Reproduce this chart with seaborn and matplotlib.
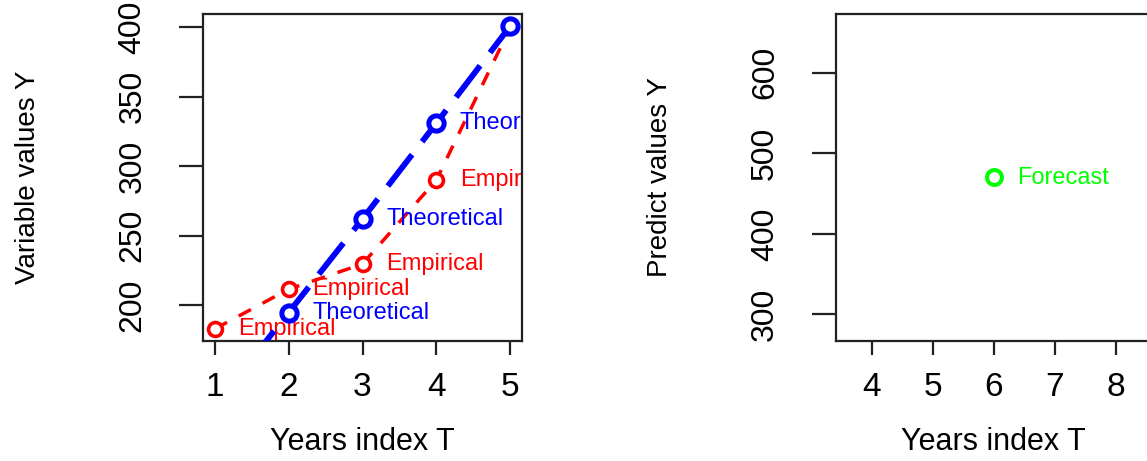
import matplotlib
matplotlib.use("Agg")
import matplotlib.pyplot as plt
import seaborn as sns

# Observed series and fitted trend over the sample years
years = [1, 2, 3, 4, 5]
empirical = [182.7, 211.3, 229.5, 290.0, 400.0]
theoretical = [127.0, 194.5, 262.0, 331.0, 401.0]

# One-step-ahead forecast
forecast_year = [6]
forecast_value = [470.0]

empirical_label = "Empirical"
theoretical_label = "Theoretical"
forecast_label = "Forecast"

x_title = "Years index T"
y_title_left = "Variable values Y"
y_title_right = "Predict values Y"

left_xticks = [1, 2, 3, 4, 5]
left_yticks = [200, 250, 300, 350, 400]
right_xticks = [4, 5, 6, 7, 8]
right_yticks = [300, 400, 500, 600]

RED = "#FF0000"
BLUE = "#0000FF"
GREEN = "#00FF00"
INK = "#222222"

sns.set_theme(style="white")
plt.rcParams["font.family"] = ["Liberation Sans", "DejaVu Sans"]


def padded(lo, hi):
    """Axis range with a 4% margin; a single value gets +/-40% first."""
    if lo == hi:
        lo, hi = lo * 0.6, hi * 1.4
    ext = 0.04 * (hi - lo)
    return lo - ext, hi + ext


def label_points(ax, xs, ys, text, color, z):
    """Write a label to the right of each point that lies inside the panel."""
    x_hi = ax.get_xlim()[1]
    y_lo, y_hi = ax.get_ylim()
    for x, y in zip(xs, ys):
        if x >= x_hi - 0.3 or not (y_lo <= y <= y_hi):
            continue
        ax.annotate(text, (x, y), xytext=(17, 0), textcoords="offset points",
                    color=color, fontsize=17, ha="left", va="center",
                    clip_on=True, zorder=z)


fig = plt.figure(figsize=(11.47, 4.61), dpi=100)
W, H = 1147.0, 461.0
ax1 = fig.add_axes([203 / W, 120 / H, 319 / W, 327 / H])
ax2 = fig.add_axes([835.5 / W, 120 / H, 316.7 / W, 327 / H])

ax1.set_xlim(*padded(min(years), max(years)))
ax1.set_ylim(*padded(min(empirical), max(empirical + theoretical[1:])))
ax2.set_xlim(*padded(min(forecast_year), max(forecast_year)))
ax2.set_ylim(*padded(min(forecast_value), max(forecast_value)))

# ---- left panel: empirical vs theoretical ----
sns.lineplot(x=years, y=empirical, ax=ax1, color=RED, linewidth=2.5,
             linestyle=(0, (4, 3.8)), marker="o", markersize=10,
             markerfacecolor="white", markeredgecolor=RED,
             markeredgewidth=2.6, errorbar=None, zorder=2)
label_points(ax1, years, empirical, empirical_label, RED, 2.5)

sns.lineplot(x=years, y=theoretical, ax=ax1, color=BLUE, linewidth=4.2,
             linestyle=(0, (6.8, 2.8)), marker="o", markersize=11,
             markerfacecolor="white", markeredgecolor=BLUE,
             markeredgewidth=3.6, errorbar=None, zorder=3)
label_points(ax1, years, theoretical, theoretical_label, BLUE, 3.5)

ax1.set_xlim(*padded(min(years), max(years)))
ax1.set_ylim(*padded(min(empirical), max(empirical + theoretical[1:])))
ax1.set_xticks(left_xticks)
ax1.set_yticks(left_yticks)

# ---- right panel: forecast ----
sns.scatterplot(x=forecast_year, y=forecast_value, ax=ax2, marker="o", s=115,
                facecolor="white", edgecolor=GREEN, linewidth=2.9, zorder=3)
label_points(ax2, forecast_year, forecast_value, forecast_label, GREEN, 3.5)

ax2.set_xlim(*padded(min(forecast_year), max(forecast_year)))
ax2.set_ylim(*padded(min(forecast_value), max(forecast_value)))
ax2.set_xticks(right_xticks)
ax2.set_yticks(right_yticks)

# ---- shared axis styling ----
for ax, ytitle, yl_x in ((ax1, y_title_left, -0.549), (ax2, y_title_right, -0.554)):
    for sp in ax.spines.values():
        sp.set_visible(True)
        sp.set_color(INK)
        sp.set_linewidth(1.6)
    ax.grid(False)
    ax.tick_params(axis="x", direction="out", length=10, width=1.6,
                   color=INK, labelsize=24, pad=12, labelcolor="black",
                   bottom=True)
    ax.tick_params(axis="y", direction="out", length=17, width=1.6,
                   color=INK, labelsize=23, pad=23, labelcolor="black",
                   left=True, labelrotation=90)
    for lab in ax.get_yticklabels():
        lab.set_va("center")
        lab.set_ha("right")
    ax.set_xlabel(x_title, fontsize=22, color="black")
    ax.xaxis.label.set_va("center")
    ax.xaxis.set_label_coords(0.5, -0.31)
    ax.set_ylabel(ytitle, fontsize=20, color="black")
    ax.yaxis.label.set_va("center")
    ax.yaxis.set_label_coords(yl_x, 0.5)

fig.savefig("out.png", dpi=100, facecolor="white")
